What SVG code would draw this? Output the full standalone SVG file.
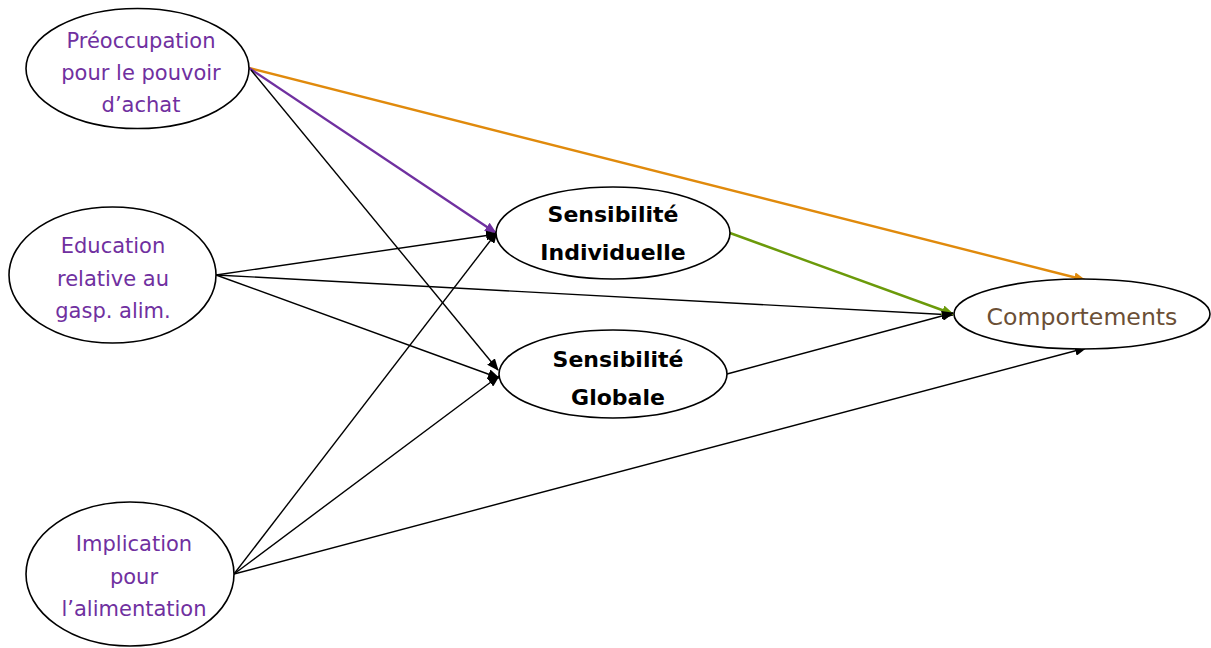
<svg xmlns="http://www.w3.org/2000/svg" width="1211" height="648" viewBox="0 0 1211 648">
<style>
.n{fill:#fff;stroke:#000;stroke-width:1.6}
.p{font-family:"DejaVu Sans","Liberation Sans",Arial,sans-serif;font-size:21px;fill:#7030A0;text-anchor:middle}
.b{font-family:"DejaVu Sans","Liberation Sans",Arial,sans-serif;font-size:22px;font-weight:bold;fill:#000;text-anchor:middle}
.c{font-family:"DejaVu Sans","Liberation Sans",Arial,sans-serif;font-size:23.6px;fill:#6B4F36;text-anchor:middle}
.e{fill:none;stroke:#000;stroke-width:1.4}
.o{fill:none;stroke:#E08A0C;stroke-width:2.4}
.v{fill:none;stroke:#7030A0;stroke-width:2.4}
.g{fill:none;stroke:#6B9A0A;stroke-width:2.4}
</style>
<defs>
<marker id="ak" markerWidth="12" markerHeight="10" refX="11" refY="5" orient="auto" markerUnits="userSpaceOnUse"><path d="M0,0 L12,5 L0,10 Z" fill="#000"/></marker>
<marker id="ao" markerWidth="12" markerHeight="10" refX="11" refY="5" orient="auto" markerUnits="userSpaceOnUse"><path d="M0,0 L12,5 L0,10 Z" fill="#E08A0C"/></marker>
<marker id="ap" markerWidth="12" markerHeight="10" refX="11" refY="5" orient="auto" markerUnits="userSpaceOnUse"><path d="M0,0 L12,5 L0,10 Z" fill="#7030A0"/></marker>
<marker id="ag" markerWidth="12" markerHeight="10" refX="11" refY="5" orient="auto" markerUnits="userSpaceOnUse"><path d="M0,0 L12,5 L0,10 Z" fill="#6B9A0A"/></marker>
</defs>
<g id="connectors">
<line class="o" x1="249" y1="68" x2="1085" y2="280" marker-end="url(#ao)"/>
<line class="v" x1="249" y1="68" x2="496" y2="233" marker-end="url(#ap)"/>
<line class="e" x1="251" y1="70" x2="498" y2="370" marker-end="url(#ak)"/>
<line class="e" x1="216" y1="275" x2="497" y2="234" marker-end="url(#ak)"/>
<line class="e" x1="216" y1="275" x2="953" y2="315" marker-end="url(#ak)"/>
<line class="e" x1="216" y1="275" x2="499" y2="378" marker-end="url(#ak)"/>
<line class="e" x1="234" y1="574" x2="497" y2="232" marker-end="url(#ak)"/>
<line class="e" x1="234" y1="574" x2="499" y2="376" marker-end="url(#ak)"/>
<line class="e" x1="234" y1="574" x2="1086" y2="348" marker-end="url(#ak)"/>
<line class="g" x1="730" y1="233" x2="953" y2="314" marker-end="url(#ag)"/>
<line class="e" x1="727" y1="374" x2="953" y2="313" marker-end="url(#ak)"/>
</g>
<g id="preoccupation">
<ellipse class="n" cx="137.5" cy="68.5" rx="111.5" ry="60"/>
<text class="p" x="141" y="48">Préoccupation</text>
<text class="p" x="141" y="80">pour le pouvoir</text>
<text class="p" x="141" y="112">d’achat</text>
</g>
<g id="education">
<ellipse class="n" cx="112.5" cy="275" rx="103.5" ry="68"/>
<text class="p" x="113" y="253">Education</text>
<text class="p" x="113" y="286">relative au</text>
<text class="p" x="113" y="318">gasp. alim.</text>
</g>
<g id="implication">
<ellipse class="n" cx="130" cy="574" rx="104" ry="72"/>
<text class="p" x="134" y="551">Implication</text>
<text class="p" x="134" y="584">pour</text>
<text class="p" x="134" y="616">l’alimentation</text>
</g>
<g id="sens_ind">
<ellipse class="n" cx="613" cy="233" rx="117" ry="46"/>
<text class="b" x="613" y="222">Sensibilité</text>
<text class="b" x="613" y="260">Individuelle</text>
</g>
<g id="sens_glob">
<ellipse class="n" cx="613" cy="374" rx="114" ry="44"/>
<text class="b" x="618" y="367">Sensibilité</text>
<text class="b" x="618" y="405">Globale</text>
</g>
<g id="comportements">
<ellipse class="n" cx="1082" cy="314" rx="128" ry="35"/>
<text class="c" x="1082" y="325">Comportements</text>
</g>
</svg>
